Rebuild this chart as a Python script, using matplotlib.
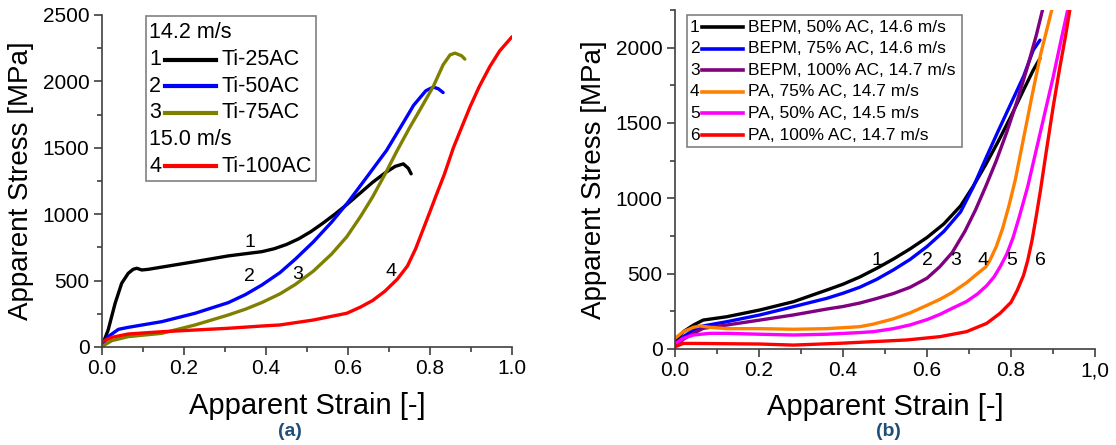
import matplotlib
matplotlib.use("Agg")
import matplotlib.pyplot as plt
from matplotlib.lines import Line2D
from matplotlib.patches import Rectangle
from matplotlib.ticker import MultipleLocator, FixedLocator

plt.rcParams['font.family'] = ['Liberation Sans', 'DejaVu Sans']

# ---- panel (a): Ti foams, strain [-] vs stress [MPa]
a_labels = ['Ti-25AC', 'Ti-50AC', 'Ti-75AC', 'Ti-100AC']
a_speeds = ['14.2 m/s', '15.0 m/s']
a_colors = ['#000000', '#0000ff', '#808000', '#ff0000']

ti25_x = [0.0, 0.015, 0.032, 0.048, 0.064, 0.076, 0.085, 0.097, 0.113, 0.227, 0.308, 0.39, 0.42,
          0.45, 0.48, 0.51, 0.54, 0.57, 0.60, 0.63, 0.66, 0.69, 0.715, 0.735, 0.747, 0.754]
ti25_y = [8, 128, 329, 480, 555, 585, 593, 580, 585, 643, 686, 718, 740,
          772, 815, 870, 935, 1005, 1080, 1160, 1240, 1310, 1360, 1379, 1346, 1304]
ti50_x = [0.0, 0.015, 0.04, 0.064, 0.146, 0.227, 0.308, 0.35, 0.39, 0.434, 0.471, 0.515, 0.56,
          0.6, 0.646, 0.694, 0.735, 0.76, 0.79, 0.808, 0.82, 0.832]
ti50_y = [15, 78, 133, 148, 191, 254, 334, 395, 467, 560, 660, 790, 940,
          1090, 1280, 1480, 1690, 1820, 1930, 1957, 1945, 1916]
ti75_x = [0.0, 0.024, 0.064, 0.146, 0.227, 0.308, 0.35, 0.39, 0.434, 0.471, 0.515, 0.56, 0.597,
          0.63, 0.66, 0.69, 0.72, 0.75, 0.78, 0.808, 0.832, 0.849, 0.861, 0.877, 0.885]
ti75_y = [5, 48, 78, 103, 166, 241, 285, 335, 400, 470, 570, 700, 830,
          980, 1130, 1300, 1480, 1650, 1810, 1962, 2125, 2200, 2213, 2193, 2168]
ti100_x = [0.0, 0.024, 0.064, 0.146, 0.227, 0.308, 0.39, 0.434, 0.515, 0.597, 0.63, 0.66, 0.69,
           0.72, 0.745, 0.765, 0.785, 0.8, 0.816, 0.835, 0.857, 0.878, 0.898, 0.92, 0.946, 0.97, 1.0]
ti100_y = [40, 73, 98, 115, 128, 141, 158, 166, 203, 254, 300, 350, 420,
           510, 610, 740, 900, 1020, 1150, 1300, 1500, 1660, 1811, 1960, 2112, 2230, 2336]

a_tags = ['1', '2', '3', '4']
a_tag_x = [0.361, 0.359, 0.478, 0.705]
a_tag_y = [790, 530, 545, 565]

# ---- panel (b): BEPM / PA
b_labels = ['BEPM, 50% AC, 14.6 m/s', 'BEPM, 75% AC, 14.6 m/s', 'BEPM, 100% AC, 14.7 m/s',
            'PA, 75% AC, 14.7 m/s', 'PA, 50% AC, 14.5 m/s', 'PA, 100% AC, 14.7 m/s']
b_colors = ['#000000', '#0000ff', '#800080', '#ff8000', '#ff00ff', '#ff0000']

bepm50_x = [0.0, 0.02, 0.044, 0.067, 0.123, 0.202, 0.282, 0.361, 0.40, 0.44, 0.48, 0.52, 0.56,
            0.60, 0.64, 0.68, 0.71, 0.74, 0.77, 0.80, 0.83, 0.853, 0.869]
bepm50_y = [48, 115, 159, 192, 214, 259, 314, 391, 430, 478, 535, 597, 665,
            740, 830, 950, 1080, 1225, 1380, 1545, 1720, 1851, 1929]
bepm75_x = [0.0, 0.02, 0.044, 0.067, 0.123, 0.202, 0.282, 0.361, 0.40, 0.44, 0.48, 0.52, 0.56,
            0.60, 0.64, 0.68, 0.71, 0.74, 0.77, 0.80, 0.83, 0.853, 0.869]
bepm75_y = [26, 82, 126, 153, 181, 226, 281, 336, 370, 410, 462, 525, 595,
            680, 780, 910, 1075, 1265, 1450, 1630, 1810, 1984, 2050]
bepm100_x = [0.0, 0.02, 0.044, 0.067, 0.123, 0.202, 0.282, 0.361, 0.40, 0.44, 0.48, 0.52, 0.56,
             0.60, 0.63, 0.66, 0.69, 0.715, 0.74, 0.765, 0.79, 0.815, 0.84, 0.86, 0.875]
bepm100_y = [15, 65, 104, 137, 159, 192, 226, 265, 282, 305, 335, 368, 410,
             470, 545, 640, 780, 920, 1080, 1250, 1440, 1650, 1880, 2080, 2250]
pa75_x = [0.0, 0.02, 0.044, 0.06, 0.083, 0.123, 0.202, 0.282, 0.361, 0.44, 0.472, 0.52, 0.56,
          0.60, 0.631, 0.66, 0.694, 0.72, 0.74, 0.75, 0.765, 0.78, 0.795, 0.81, 0.83, 0.85,
          0.87, 0.897]
pa75_y = [71, 115, 144, 153, 144, 135, 135, 131, 135, 148, 165, 200, 240,
          290, 330, 375, 440, 500, 545, 590, 680, 800, 950, 1120, 1400, 1680,
          1950, 2250]
pa50_x = [0.0, 0.02, 0.044, 0.083, 0.123, 0.202, 0.282, 0.361, 0.44, 0.472, 0.52, 0.56, 0.60,
          0.631, 0.66, 0.694, 0.72, 0.742, 0.76, 0.775, 0.79, 0.805, 0.82, 0.84, 0.86, 0.88,
          0.90, 0.92, 0.935]
pa50_y = [37, 71, 93, 104, 104, 98, 93, 98, 109, 115, 135, 160, 195,
          230, 270, 315, 365, 420, 480, 550, 630, 740, 880, 1080, 1320, 1560,
          1800, 2060, 2250]
pa100_x = [0.0, 0.02, 0.044, 0.202, 0.282, 0.393, 0.552, 0.631, 0.694, 0.742, 0.774, 0.80, 0.815,
           0.83, 0.84, 0.85, 0.86, 0.87, 0.885, 0.90, 0.915, 0.93, 0.94]
pa100_y = [15, 37, 37, 33, 26, 38, 60, 82, 115, 170, 237, 310, 390,
           490, 590, 720, 880, 1050, 1330, 1600, 1850, 2080, 2250]

b_tags = ['1', '2', '3', '4', '5', '6']
b_tag_x = [0.481, 0.60, 0.669, 0.733, 0.802, 0.869]
b_tag_y = [590, 590, 590, 590, 590, 590]

W, H = 1116, 445
fig = plt.figure(figsize=(W / 100, H / 100), dpi=100)


def fx(px):
    return px / W


def fy(py):
    return 1 - py / H


def style_axes(ax, ymax, ymajor, xfmt):
    for s in ['top', 'right']:
        ax.spines[s].set_visible(False)
    for s in ['left', 'bottom']:
        ax.spines[s].set_color('#404040')
        ax.spines[s].set_linewidth(1.2)
    ax.set_xlim(0, 1.0)
    ax.set_ylim(0, ymax)
    ax.xaxis.set_major_locator(FixedLocator([0, 0.2, 0.4, 0.6, 0.8, 1.0]))
    ax.set_xticklabels(xfmt)
    ax.xaxis.set_minor_locator(MultipleLocator(0.1))
    ax.yaxis.set_major_locator(MultipleLocator(ymajor))
    ax.yaxis.set_minor_locator(MultipleLocator(ymajor / 2))
    ax.tick_params(which='major', direction='out', length=6, width=1.2, color='#404040',
                   labelsize=15, pad=3)
    ax.tick_params(which='minor', direction='out', length=3.5, width=1.2, color='#404040')
    ax.set_xlabel('Apparent Strain [-]', fontsize=21)
    ax.set_ylabel('Apparent Stress [MPa]', fontsize=20)


# panel (a)
axA = fig.add_axes([fx(102), fy(347), fx(410), 332 / H])
for xs, ys, c in zip([ti25_x, ti50_x, ti75_x, ti100_x], [ti25_y, ti50_y, ti75_y, ti100_y], a_colors):
    axA.plot(xs, ys, color=c, lw=2.4, solid_capstyle='round', solid_joinstyle='round')
for t, x, y in zip(a_tags, a_tag_x, a_tag_y):
    axA.text(x, y, t, fontsize=14, ha='center', va='center')
style_axes(axA, 2500, 500, ['0.0', '0.2', '0.4', '0.6', '0.8', '1.0'])
axA.yaxis.set_label_coords(-0.166, 0.5)
axA.xaxis.set_label_coords(0.5, -0.136)

# panel (b)
axB = fig.add_axes([fx(675), fy(349), fx(420), 339 / H])
b_x = [bepm50_x, bepm75_x, bepm100_x, pa75_x, pa50_x, pa100_x]
b_y = [bepm50_y, bepm75_y, bepm100_y, pa75_y, pa50_y, pa100_y]
for xs, ys, c in zip(b_x, b_y, b_colors):
    axB.plot(xs, ys, color=c, lw=2.4, solid_capstyle='round', solid_joinstyle='round')
for t, x, y in zip(b_tags, b_tag_x, b_tag_y):
    axB.text(x, y, t, fontsize=14, ha='center', va='center')
style_axes(axB, 2250, 500, ['0.0', '0.2', '0.4', '0.6', '0.8', '1,0'])
axB.yaxis.set_label_coords(-0.162, 0.5)
axB.xaxis.set_label_coords(0.5, -0.13)

# legend (a), drawn by hand
fig.patches.append(Rectangle((fx(146), fy(181)), fx(316 - 146), (181 - 16) / H,
                             transform=fig.transFigure, fill=False, ec='#808080', lw=1.2))
rows_a = [('', a_speeds[0], None), ('1', a_labels[0], a_colors[0]), ('2', a_labels[1], a_colors[1]),
          ('3', a_labels[2], a_colors[2]), ('', a_speeds[1], None), ('4', a_labels[3], a_colors[3])]
for i, (num, lab, c) in enumerate(rows_a):
    yy = 33 + i * 26.6
    if c is None:
        fig.text(fx(149), fy(yy), lab, fontsize=15.5, va='center', ha='left')
    else:
        fig.text(fx(149), fy(yy), num, fontsize=15.5, va='center', ha='left')
        fig.add_artist(Line2D([fx(165), fx(216)], [fy(yy), fy(yy)], color=c, lw=3,
                              transform=fig.transFigure))
        fig.text(fx(221), fy(yy), lab, fontsize=15.5, va='center', ha='left')

# legend (b)
fig.patches.append(Rectangle((fx(687), fy(147)), fx(962 - 687), (147 - 15) / H,
                             transform=fig.transFigure, fill=False, ec='#808080', lw=1.2))
for i, (lab, c) in enumerate(zip(b_labels, b_colors)):
    yy = 27 + i * 21.6
    fig.text(fx(690), fy(yy), str(i + 1), fontsize=12.5, va='center', ha='left')
    fig.add_artist(Line2D([fx(702), fx(743)], [fy(yy), fy(yy)], color=c, lw=2.6,
                          transform=fig.transFigure))
    fig.text(fx(748), fy(yy), lab, fontsize=12.5, va='center', ha='left')

fig.text(fx(290), fy(432), '(a)', fontsize=14, fontweight='bold', color='#1f4e79',
         ha='center', va='center')
fig.text(fx(888), fy(432), '(b)', fontsize=14, fontweight='bold', color='#1f4e79',
         ha='center', va='center')

fig.savefig('out.png', dpi=100)
